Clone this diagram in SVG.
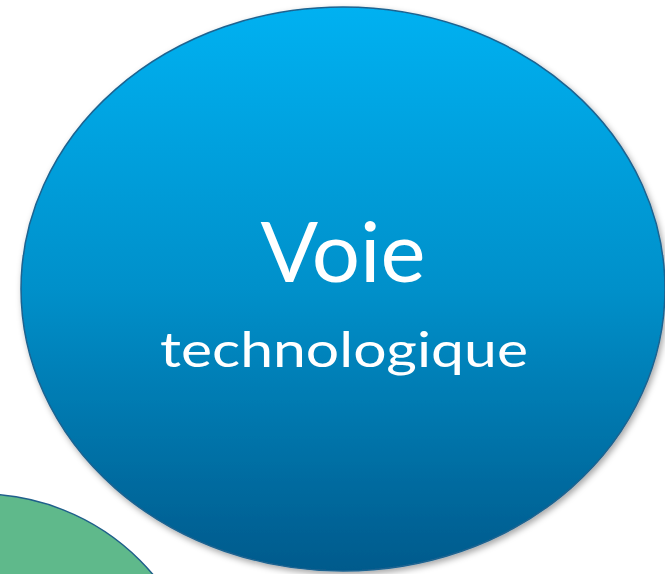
<svg xmlns="http://www.w3.org/2000/svg" width="665" height="574" viewBox="0 0 665 574">
  <defs>
    <linearGradient id="blueGrad" x1="0" y1="0" x2="0" y2="1">
      <stop offset="0" stop-color="#00B1F1"/>
      <stop offset="0.5" stop-color="#0090CA"/>
      <stop offset="1" stop-color="#005A8C"/>
    </linearGradient>
    <filter id="shadow" x="-10%" y="-10%" width="125%" height="125%">
      <feDropShadow dx="2" dy="3" stdDeviation="3" flood-color="#000000" flood-opacity="0.35"/>
    </filter>
    <style>
      .lbl { font-family: Lato, "Open Sans", "Liberation Sans", sans-serif; fill: #FFFFFF; text-anchor: middle; }
    </style>
  </defs>
  <rect width="665" height="574" fill="#FFFFFF"/>
  <g id="node-green">
    <circle cx="-20" cy="720" r="226" fill="#5FB98B" stroke="#1F5F8A" stroke-width="1.5"/>
  </g>
  <g id="node-voie-technologique">
    <ellipse cx="343" cy="289" rx="322" ry="282" fill="url(#blueGrad)" stroke="#1D6390" stroke-width="1.5" filter="url(#shadow)"/>
    <text class="lbl" x="343" y="282" font-size="83" textLength="165" lengthAdjust="spacingAndGlyphs">Voie</text>
    <text class="lbl" x="344" y="367" font-size="48" textLength="368" lengthAdjust="spacingAndGlyphs">technologique</text>
  </g>
  <g id="connectors"></g>
</svg>
